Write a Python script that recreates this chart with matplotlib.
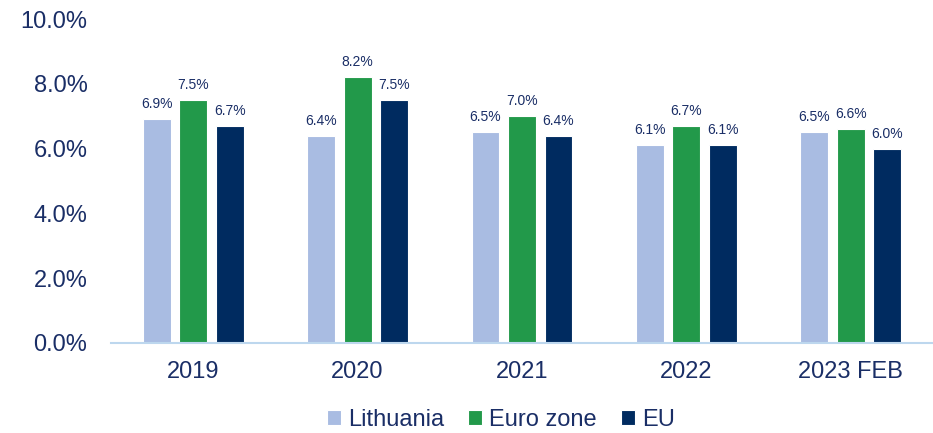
import numpy as np
import matplotlib.pyplot as plt
from matplotlib.ticker import FuncFormatter

categories = ['2019', '2020', '2021', '2022', '2023 FEB']
lithuania = [6.9, 6.4, 6.5, 6.1, 6.5]
euro_zone = [7.5, 8.2, 7.0, 6.7, 6.6]
eu = [6.7, 7.5, 6.4, 6.1, 6.0]

series_names = ['Lithuania', 'Euro zone', 'EU']
colors = ['#A9BCE2', '#22994A', '#002B60']
text_color = '#1A2E66'

plt.rcParams['font.family'] = ['Liberation Sans', 'DejaVu Sans']

fig = plt.figure(figsize=(9.33, 4.33), dpi=100)
ax = fig.add_axes([0.119, 0.208, 0.881, 0.748])

x = np.arange(len(categories))
width = 0.17
step = 0.222

for i, (vals, name, col) in enumerate(zip([lithuania, euro_zone, eu], series_names, colors)):
    pos = x + (i - 1) * step
    bars = ax.bar(pos, vals, width, color=col, label=name, edgecolor='white', linewidth=0.8)
    for b, v in zip(bars, vals):
        ax.text(b.get_x() + b.get_width() / 2, v + 0.25, f'{v:.1f}%',
                ha='center', va='bottom', fontsize=10, color=text_color)

ax.set_xlim(-0.5, len(categories) - 0.5)
ax.set_ylim(0, 10)
ax.set_yticks(np.arange(0, 10.1, 2))
ax.yaxis.set_major_formatter(FuncFormatter(lambda v, p: f'{v:.1f}%'))
ax.set_xticks(x)
ax.set_xticklabels(categories)

for s in ['top', 'right', 'left']:
    ax.spines[s].set_visible(False)
ax.spines['bottom'].set_color('#BDD7EE')
ax.spines['bottom'].set_linewidth(1.5)

ax.tick_params(axis='y', length=0, labelsize=17, labelcolor=text_color, pad=17)
ax.tick_params(axis='x', length=0, labelsize=17, labelcolor=text_color, pad=13)

leg = fig.legend(loc='center', bbox_to_anchor=(0.537, 0.03), ncol=3, frameon=False,
                 fontsize=17, handlelength=0.6, handleheight=0.6, handletextpad=0.3,
                 columnspacing=1.0)
for t in leg.get_texts():
    t.set_color(text_color)

fig.savefig('out.png', dpi=100)
